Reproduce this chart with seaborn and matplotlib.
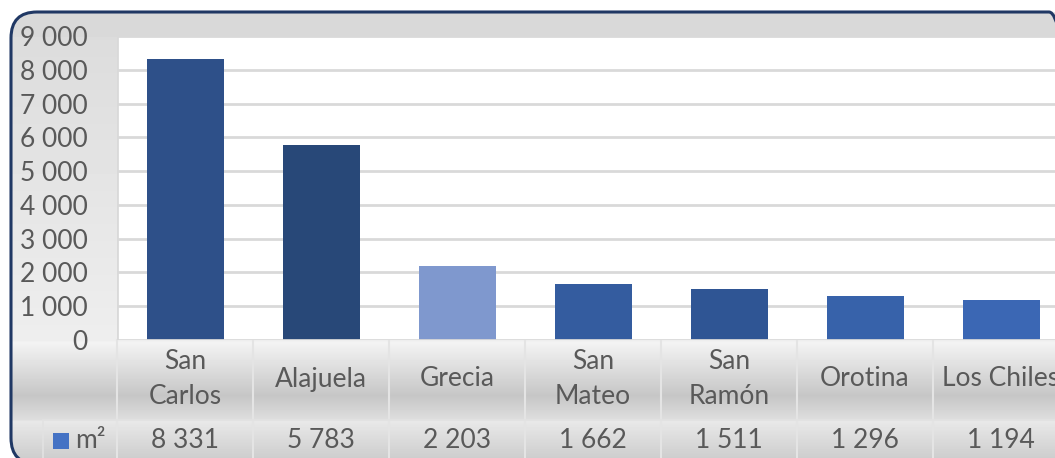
import numpy as np
import pandas as pd
import seaborn as sns
import matplotlib.pyplot as plt
from matplotlib.patches import FancyBboxPatch, Rectangle
from matplotlib.transforms import blended_transform_factory

# Data
cantones = ["San Carlos", "Alajuela", "Grecia", "San Mateo", "San Ramón", "Orotina", "Los Chiles"]
etiquetas = ["San\nCarlos", "Alajuela", "Grecia", "San\nMateo", "San\nRamón", "Orotina", "Los Chiles"]
area_m2 = [8331, 5783, 2203, 1662, 1511, 1296, 1194]
serie = "m²"
yticks = [0, 1000, 2000, 3000, 4000, 5000, 6000, 7000, 8000, 9000]

bar_colors = ["#2E5089", "#284878", "#7F98CE", "#345C9F", "#2F5594", "#3762AA", "#3B67B4"]
legend_color = "#4472C4"
text_color = "#595959"

df = pd.DataFrame({"canton": cantones, "m2": area_m2})

W, H = 1055, 458
fig = plt.figure(figsize=(W / 100, H / 100), dpi=100)
plt.rcParams["font.family"] = ["Lato", "DejaVu Sans"]
fs = 19

# Background: rounded frame with a gray gradient (pixel coords, y measured from the bottom)
bg = fig.add_axes([0, 0, 1, 1])
bg.set_xlim(0, W)
bg.set_ylim(0, H)
bg.axis("off")
ys = np.arange(H)
prof = np.interp(ys, [0, 36, 37, 340, 342, 395, 419, 421, 458],
                 [217, 217, 220, 238, 243, 198, 222, 232, 205]) / 255.0
img = np.repeat(prof[:, None], 2, axis=1)
frame = FancyBboxPatch((11, -6), 1075 - 11, H - 12 + 6,
                       boxstyle="round,pad=0,rounding_size=26",
                       facecolor="none", edgecolor="#203864", linewidth=2.2, zorder=5)
bg.add_patch(frame)
im = bg.imshow(img, cmap="gray", vmin=0, vmax=1, extent=[0, W, 0, H],
               origin="upper", aspect="auto", zorder=0)
im.set_clip_path(frame)

# Plot area (extends past the right edge, like the original)
left, right, top, bottom = 117, 117 + 7 * 136, 36, 340
ax = fig.add_axes([left / W, 1 - bottom / H, (right - left) / W, (bottom - top) / H])
ax.set_facecolor("white")
sns.barplot(data=df, x="canton", y="m2", hue="canton", palette=bar_colors,
            legend=False, width=77 / 136, saturation=1, ax=ax, zorder=3)
ax.set_xlim(-0.5, 6.5)
ax.set_ylim(0, 9000)
ax.set_yticks(yticks)
ax.set_yticklabels([f"{v:,}".replace(",", " ") for v in yticks])
ax.tick_params(axis="y", length=0, pad=21, labelsize=fs, labelcolor=text_color)
ax.set_xticks([])
ax.set_xlabel("")
ax.set_ylabel("")
for s in ax.spines.values():
    s.set_visible(False)
for v in yticks[1:]:
    ax.axhline(v, color="#D9D9D9", linewidth=2, zorder=1)
ax.axhline(0, color="#D9D9D9", linewidth=2, zorder=4)
ax.axvline(-0.5, color="#D9D9D9", linewidth=2, zorder=4)

# Data table under the chart
tr = blended_transform_factory(ax.transData, bg.transData)
for i, (lab, v) in enumerate(zip(etiquetas, area_m2)):
    ax.text(i, H - 379, lab, transform=tr, ha="center", va="center", fontsize=fs,
            color=text_color, linespacing=1.5, clip_on=False)
    ax.text(i, H - 440, f"{v:,}".replace(",", " "), transform=tr, ha="center", va="center",
            fontsize=fs, color=text_color, clip_on=False)
for k in range(8):
    bg.plot([117 + 136 * k] * 2, [H - 340, 0], color="#E4E4E4", linewidth=1.5, zorder=2)
bg.plot([43, W], [H - 420, H - 420], color="#E2E2E2", linewidth=1.2, zorder=2)
bg.plot([43, 43], [H - 420, 0], color="#E2E2E2", linewidth=1.2, zorder=2)
bg.add_patch(Rectangle((53, H - 449), 16, 16, facecolor=legend_color, edgecolor="none", zorder=3))
bg.text(75, H - 440, serie, ha="left", va="center", fontsize=fs, color=text_color, zorder=3)

fig.savefig("out.png", dpi=100)
